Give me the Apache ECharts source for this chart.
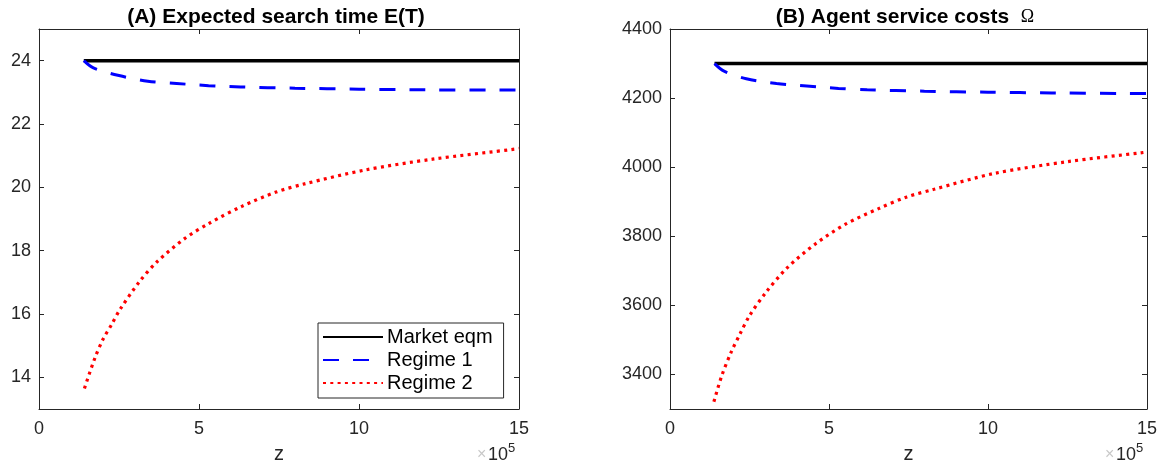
<!DOCTYPE html>
<html>
<head>
<meta charset="utf-8">
<script src="https://cdn.jsdelivr.net/npm/echarts@6/dist/echarts.min.js"></script>
<style>
  html, body { margin: 0; padding: 0; background: #fff; }
  #chart { width: 1165px; height: 469px; }
</style>
</head>
<body>
<div id="chart"></div>
<script>
// z values are in units of 1e5
const zMarket = [1.4, 15];

// Panel A: expected search time E(T)
const etMarket = [24, 24];
const zRegime1A = [1.4, 1.7, 2.5, 3.4, 4.3, 5.3, 6.3, 8, 10, 12, 15];
const etRegime1 = [24, 23.77, 23.53, 23.35, 23.28, 23.21, 23.17, 23.13, 23.1, 23.08, 23.07];
const zRegime2A = [1.42, 1.75, 2.0, 2.27, 2.53, 3.13, 3.69, 4.55, 5.33, 6.34, 7.41, 8.3, 10.2, 12.3, 14.9, 15];
const etRegime2 = [13.65, 14.62, 15.2, 15.67, 16.14, 17.01, 17.65, 18.38, 18.87, 19.4, 19.85, 20.11, 20.55, 20.89, 21.21, 21.23];

// Panel B: agent service costs
const omegaMarket = [4300, 4300];
const zRegime1B = [1.4, 1.7, 2.4, 3.35, 4.3, 5.3, 6.2, 8, 10, 12, 15];
const omegaRegime1 = [4300, 4278, 4256, 4242, 4235, 4228, 4224, 4220, 4217, 4215, 4213];
const zRegime2B = [1.38, 1.63, 1.93, 2.2, 2.5, 3.02, 3.7, 4.56, 5.52, 6.56, 7.45, 8.3, 10.2, 12.5, 14.84, 15];
const omegaRegime2 = [3321, 3397, 3466, 3517, 3570, 3638, 3710, 3777, 3835, 3880, 3914, 3936, 3982, 4016, 4042, 4044];

// Axis ticks
const zTicks = [0, 5, 10, 15];
const etTicks = [14, 16, 18, 20, 22, 24];
const omegaTicks = [3400, 3600, 3800, 4000, 4200, 4400];

const pairs = (xs, ys) => xs.map((x, i) => [x, ys[i]]);

const FONT = "'Liberation Sans', Arial, Helvetica, sans-serif";
const AX = '#262626';

function xAxes(gridIndex) {
  const common = {
    type: 'value', gridIndex, min: 0, max: 15, interval: 5,
    axisLine: { show: true, onZero: false, lineStyle: { color: AX, width: 1 } },
    axisTick: { show: true, inside: true, length: 5, lineStyle: { color: AX }, customValues: zTicks },
    splitLine: { show: false }
  };
  return [
    Object.assign({}, common, {
      position: 'bottom',
      axisLabel: { color: AX, fontSize: 18, fontFamily: FONT, margin: 11, customValues: zTicks },
      name: 'z', nameLocation: 'middle', nameGap: 35,
      nameTextStyle: { color: AX, fontSize: 20, fontFamily: FONT }
    }),
    Object.assign({}, common, { position: 'top', axisLabel: { show: false } })
  ];
}

function yAxes(gridIndex, min, max, ticks) {
  const common = {
    type: 'value', gridIndex, min, max,
    axisLine: { show: true, onZero: false, lineStyle: { color: AX, width: 1 } },
    axisTick: { show: true, inside: true, length: 5, lineStyle: { color: AX }, customValues: ticks },
    splitLine: { show: false }
  };
  return [
    Object.assign({}, common, {
      position: 'left',
      axisLabel: {
        color: AX, fontSize: 18, fontFamily: FONT, margin: 8, customValues: ticks,
        formatter: v => String(v)
      }
    }),
    Object.assign({}, common, { position: 'right', axisLabel: { show: false, customValues: ticks } })
  ];
}

const marketStyle = { color: '#000000', width: 3.5, type: 'solid' };
const regime1Style = { color: '#0000ff', width: 3, type: [16, 14], cap: 'butt' };
const regime2Style = { color: '#ff0000', width: 3.2, type: [3, 4.3], cap: 'butt' };

function lineSeries(name, xIdx, yIdx, data, style, smooth) {
  return {
    name, type: 'line', xAxisIndex: xIdx, yAxisIndex: yIdx,
    data, symbol: 'none', smooth: smooth ? 0.3 : false,
    lineStyle: style, itemStyle: { color: style.color }, emphasis: { disabled: true },
    animation: false
  };
}

const chart = echarts.init(document.getElementById('chart'), null, { renderer: 'canvas' });

chart.setOption({
  animation: false,
  backgroundColor: '#ffffff',
  title: [
    {
      text: '(A) Expected search time E(T)', left: 271, top: 2, textAlign: 'center',
      textStyle: { fontSize: 21, fontWeight: 'bold', color: '#000', fontFamily: FONT }
    },
    {
      text: '{t|(B) Agent service costs  }{o|Ω}', left: 900, top: 2, textAlign: 'center',
      textStyle: {
        rich: {
          t: { fontSize: 21, fontWeight: 'bold', color: '#000', fontFamily: FONT },
          o: { fontSize: 18, fontWeight: 'normal', color: '#000', fontFamily: "'Liberation Serif', 'Times New Roman', serif" }
        }
      }
    }
  ],
  grid: [
    { left: 39, top: 29, width: 480, height: 381, containLabel: false },
    { left: 670, top: 29, width: 477, height: 381, containLabel: false }
  ],
  xAxis: [].concat(xAxes(0), xAxes(1)),
  yAxis: [].concat(yAxes(0, 13, 25, etTicks), yAxes(1, 3300, 4400, omegaTicks)),
  legend: {
    orient: 'vertical', left: 318, top: 323,
    data: ['Market eqm', 'Regime 1', 'Regime 2'],
    itemWidth: 60, itemHeight: 14, itemGap: 3,
    padding: [4, 11, 5, 4],
    itemStyle: { opacity: 0 },
    backgroundColor: '#ffffff', borderColor: AX, borderWidth: 1, borderRadius: 0,
    textStyle: { fontSize: 20, color: '#000', fontFamily: FONT, padding: [0, 0, 0, -1] },
    selectedMode: false
  },
  series: [
    lineSeries('Market eqm', 0, 0, pairs(zMarket, etMarket), marketStyle, false),
    lineSeries('Regime 1', 0, 0, pairs(zRegime1A, etRegime1), regime1Style, true),
    lineSeries('Regime 2', 0, 0, pairs(zRegime2A, etRegime2), regime2Style, true),
    lineSeries('Market eqm', 2, 2, pairs(zMarket, omegaMarket), marketStyle, false),
    lineSeries('Regime 1', 2, 2, pairs(zRegime1B, omegaRegime1), regime1Style, true),
    lineSeries('Regime 2', 2, 2, pairs(zRegime2B, omegaRegime2), regime2Style, true)
  ],
  graphic: [
    // exponent markers under the right end of each z axis
    { type: 'text', left: 477, top: 447, style: { text: '×', fill: '#c8c8c8', font: '16px ' + FONT } },
    { type: 'text', left: 488, top: 446, style: { text: '10', fill: AX, font: '18px ' + FONT } },
    { type: 'text', left: 508, top: 442, style: { text: '5', fill: AX, font: '13px ' + FONT } },
    { type: 'text', left: 1105, top: 447, style: { text: '×', fill: '#c8c8c8', font: '16px ' + FONT } },
    { type: 'text', left: 1116, top: 446, style: { text: '10', fill: AX, font: '18px ' + FONT } },
    { type: 'text', left: 1136, top: 442, style: { text: '5', fill: AX, font: '13px ' + FONT } }
  ]
});
</script>
</body>
</html>
